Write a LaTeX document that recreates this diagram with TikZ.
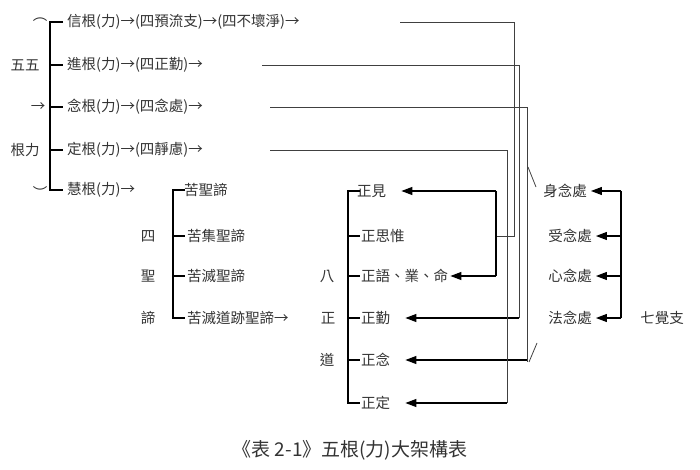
\documentclass[tikz,border=0pt]{standalone}
\usepackage{fontspec}
\setmainfont{Noto Sans CJK TC}
\usetikzlibrary{arrows.meta}
\begin{document}
\begin{tikzpicture}[x=1pt,y=-1pt,
  t/.style={font=\fontsize{14.5}{14.5}\selectfont,inner sep=1pt,text=black!80},
  tl/.style={t,anchor=west},
  ln/.style={line width=0.8pt,black!75},
  br/.style={line width=1.2pt,black},
  ar/.style={line width=1.2pt,black,-{Triangle[width=8pt,length=11pt]}}]
\useasboundingbox (0,0) rectangle (700,470);
% left labels
\node[t] (p1) at (40,20) {︵};
\node[t] (p2) at (25,65) {五五};
\node[t] (p3) at (38,107) {→};
\node[t] (p4) at (25,150) {根力};
\node[t] (p5) at (40,192) {︶};
\draw[br] (63,22) -- (50,22) -- (50,190) -- (63,190);
\foreach \y in {65,107,150} \draw[br] (50,\y) -- (63,\y);
\node[tl] (r1) at (66,22) {信根(力)→(四預流支)→(四不壞淨)→};
\node[tl] (r2) at (66,65) {進根(力)→(四正勤)→};
\node[tl] (r3) at (66,107) {念根(力)→(四念處)→};
\node[tl] (r4) at (66,150) {定根(力)→(四靜慮)→};
\node[tl] (r5) at (66,190) {慧根(力)→};
% four truths
\node[tl] (k1) at (183,190) {苦聖諦};
\node[tl] (k2) at (186,236) {苦集聖諦};
\node[tl] (k3) at (186,276) {苦滅聖諦};
\node[tl] (k4) at (186,318) {苦滅道跡聖諦→};
\draw[br] (185,190) -- (173,190) -- (173,318) -- (185,318);
\foreach \y in {236,276} \draw[br] (173,\y) -- (185,\y);
\node[t] (s1) at (148,236) {四};
\node[t] (s2) at (148,276) {聖};
\node[t] (s3) at (148,318) {諦};
% eightfold path
\node[t] (e1) at (327,276) {八};
\node[t] (e2) at (328,318) {正};
\node[t] (e3) at (327,360) {道};
\node[tl] (g1) at (356,191) {正見};
\node[tl] (g2) at (360,236) {正思惟};
\node[tl] (g3) at (360,276) {正語、業、命};
\node[tl] (g4) at (360,318) {正勤};
\node[tl] (g5) at (360,360) {正念};
\node[tl] (g6) at (360,403) {正定};
\draw[br] (360,191) -- (348,191) -- (348,403) -- (360,403);
\foreach \y in {236,276,318,360} \draw[br] (348,\y) -- (360,\y);
% mindfulness
\node[t] (m1) at (565,191) {身念處};
\node[t] (m2) at (570,236) {受念處};
\node[t] (m3) at (570,276) {心念處};
\node[t] (m4) at (570,318) {法念處};
\node[t] (q) at (662,318) {七覺支};
\coordinate (mv1) at (621,191);
\coordinate (mv4) at (621,318);
\draw[br] (mv1) -- (mv4);
\foreach \n/\y in {m1/191,m2/236,m3/276,m4/318} \draw[ar] (621,\y) -- ([xshift=3pt]\n.east);
% connectors
\coordinate (a1) at (400,22);
\coordinate (a2) at (262,65);
\coordinate (a3) at (270,107);
\coordinate (a4) at (270,150);
\draw[ln] (a1) -- (514,22) -- (514,236) -- (496,236);
\draw[br] (496,191) -- (496,276);
\draw[ar] (496,191) -- ([xshift=14pt]g1.east);
\draw[ar] (496,276) -- ([xshift=1pt]g3.east);
\draw[ln] (a2) -- (519,65) -- (519,318);
\draw[ar] (519,318) -- ([xshift=14pt]g4.east);
\draw[ln] (a3) -- (527,107) -- (527,362);
\draw[ar] (527,360) -- ([xshift=14pt]g5.east);
\draw[ln] (528,167) -- (536,187);
\draw[ln] (537,343) -- (529,362);
\draw[ln] (a4) -- (507,150) -- (507,403);
\draw[ar] (507,403) -- ([xshift=14pt]g6.east);
\node[font=\fontsize{19}{19}\selectfont,text=black!80] (cap) at (350,450) {《表 2-1》五根(力)大架構表};
\end{tikzpicture}
\end{document}
